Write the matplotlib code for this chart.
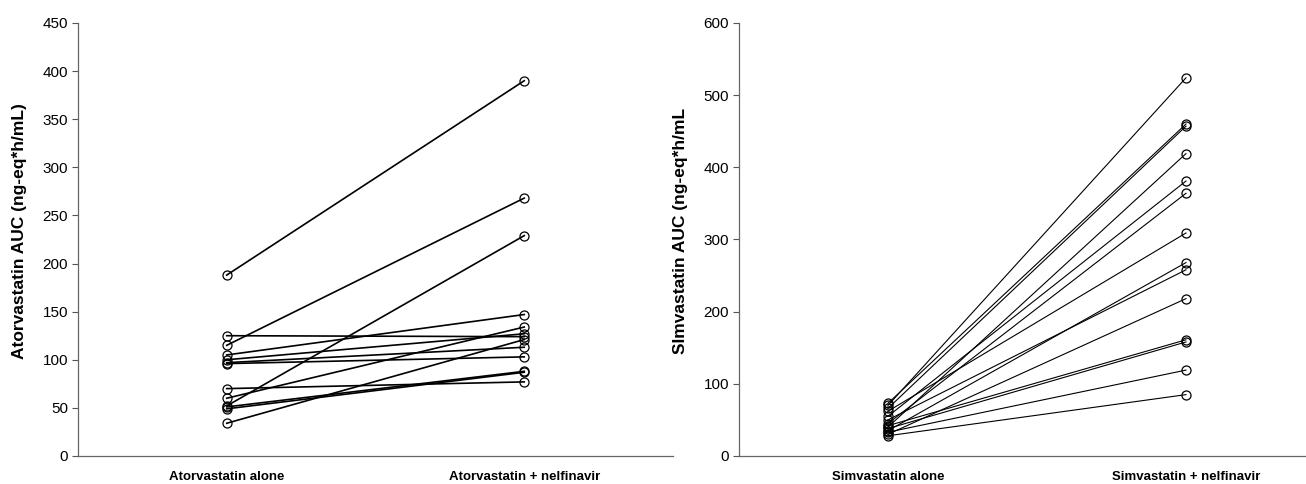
import matplotlib.pyplot as plt
from matplotlib.transforms import ScaledTranslation

plt.rcParams['font.family'] = ['Liberation Sans', 'DejaVu Sans']

# Atorvastatin AUC (ng-eq*h/mL), paired subjects
atorva_alone = [188, 115, 52, 105, 60, 34, 125, 100, 97, 96, 70, 51, 49]
atorva_nelf = [390, 268, 229, 147, 134, 121, 124, 127, 113, 103, 77, 88, 87]

# Simvastatin AUC (ng-eq*h/mL), paired subjects
simva_alone = [70, 73, 66, 40, 55, 45, 62, 35, 50, 30, 42, 38, 33, 28]
simva_nelf = [524, 460, 457, 419, 381, 364, 309, 268, 258, 218, 161, 158, 119, 85]

atorva_labels = ['Atorvastatin alone', 'Atorvastatin + nelfinavir']
simva_labels = ['Simvastatin alone', 'Simvastatin + nelfinavir']


def paired_panel(ax, before, after, labels, ylim, step, ylabel, lw):
    for a, b in zip(before, after):
        ax.plot([1, 2], [a, b], color='black', linewidth=lw,
                marker='o', markersize=6.5, markerfacecolor='none',
                markeredgecolor='black', markeredgewidth=0.9)
    ax.set_xlim(0.5, 2.5)
    ax.set_ylim(0, ylim)
    ax.set_yticks(range(0, ylim + 1, step))
    ax.set_xticks([1, 2])
    ax.set_xticklabels(labels, fontsize=9.5, fontweight='bold')
    shift = ScaledTranslation(-7 / 100, 0, ax.figure.dpi_scale_trans)
    for t in ax.get_xticklabels():
        t.set_transform(t.get_transform() + shift)
    ax.tick_params(axis='x', length=0, pad=11)
    ax.tick_params(axis='y', length=4, width=0.8, labelsize=11, pad=3, color='#555555')
    ax.set_ylabel(ylabel, fontsize=12.5, fontweight='bold')
    ax.yaxis.set_label_coords(-0.085, 0.52)
    for side in ['top', 'right']:
        ax.spines[side].set_visible(False)
    for side in ['left', 'bottom']:
        ax.spines[side].set_color('#666666')
        ax.spines[side].set_linewidth(0.9)


fig = plt.figure(figsize=(13.06, 4.84), dpi=100)
ax1 = fig.add_axes([0.0597, 0.0579, 0.4556, 0.8946])
ax2 = fig.add_axes([0.5658, 0.0579, 0.4564, 0.8946])

paired_panel(ax1, atorva_alone, atorva_nelf, atorva_labels, 450, 50,
             'Atorvastatin AUC (ng-eq*h/mL)', 1.2)
paired_panel(ax2, simva_alone, simva_nelf, simva_labels, 600, 100,
             'SImvastatin AUC (ng-eq*h/mL', 0.8)

fig.savefig('out.png', dpi=100)
